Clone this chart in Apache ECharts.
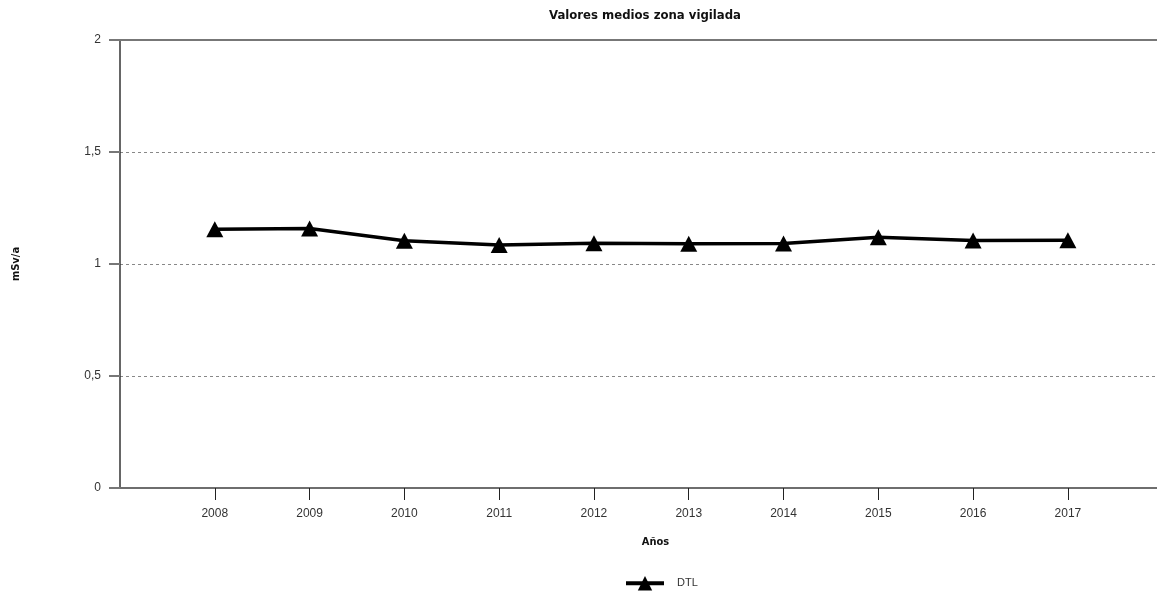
<!DOCTYPE html>
<html>
<head>
<meta charset="utf-8">
<script src="https://cdn.jsdelivr.net/npm/echarts@6/dist/echarts.min.js"></script>
<style>html,body{margin:0;padding:0;background:#fff}#c{width:1157px;height:593px}</style>
</head>
<body>
<div id="c"></div>
<script>
const years = [2008, 2009, 2010, 2011, 2012, 2013, 2014, 2015, 2016, 2017];
const dtl = [1.155, 1.158, 1.104, 1.085, 1.093, 1.090, 1.091, 1.119, 1.105, 1.106];
const yTicks = [0, 0.5, 1, 1.5, 2];

const chart = echarts.init(document.getElementById('c'));
const condensed = "'Liberation Sans Narrow', 'DejaVu Sans Condensed', 'Liberation Sans', sans-serif";
chart.setOption({
  animation: false,
  title: {
    text: 'Valores medios zona vigilada',
    left: 640, top: 4, textAlign: 'center',
    textStyle: { fontFamily: condensed, fontWeight: 'bold', fontSize: 13, color: '#111' }
  },
  legend: {
    top: 576, left: 624, padding: 0,
    itemWidth: 38, itemHeight: 18, itemGap: 10,
    lineStyle: { width: 4, color: '#000' },
    textStyle: { fontFamily: 'Liberation Sans', fontSize: 11, color: '#333', padding: [0, 0, 0, 8] },
    data: ['DTL']
  },
  grid: { left: 120, right: 0, top: 40, bottom: 105, containLabel: false, outerBoundsMode: 'none' },
  xAxis: {
    type: 'value', min: 2007, max: 2017.94, interval: 1,
    name: 'Años', nameLocation: 'middle', nameGap: 49,
    nameTextStyle: { fontFamily: condensed, fontWeight: 'bold', fontSize: 11, color: '#111', padding: [0,0,0,34] },
    axisLine: { show: true, onZero: false, lineStyle: { color: '#6e6e6e', width: 2 } },
    axisTick: { show: true, length: 12, lineStyle: { color: '#222', width: 1 } },
    axisLabel: {
      margin: 20, fontFamily: 'Liberation Sans', fontSize: 12, color: '#333',
      showMaxLabel: false, showMinLabel: false,
      formatter: v => (Number.isInteger(v) && years.includes(v)) ? String(v) : ''
    },
    splitLine: { show: false }
  },
  yAxis: {
    type: 'value', min: 0, max: 2, interval: 0.5,
    name: 'mSv/a', nameLocation: 'middle', nameGap: 98,
    nameTextStyle: { fontFamily: condensed, fontWeight: 'bold', fontSize: 11, color: '#111' },
    axisLine: { show: true, lineStyle: { color: '#333', width: 1.5 } },
    axisTick: { show: true, length: 11, lineStyle: { color: '#777', width: 2 } },
    axisLabel: {
      margin: 19, fontFamily: 'Liberation Sans', fontSize: 12, color: '#333',
      formatter: v => yTicks.includes(v) ? String(v).replace('.', ',') : ''
    },
    splitLine: { show: true, lineStyle: { color: '#888', type: [3, 3], width: 1 } }
  },
  series: [{
    name: 'DTL', type: 'line',
    data: years.map((y, i) => [y, dtl[i]]),
    symbol: 'triangle', symbolSize: [17, 16],
    lineStyle: { color: '#000', width: 3.5 },
    itemStyle: { color: '#000' },
    markLine: {
      silent: true, symbol: 'none', label: { show: false },
      lineStyle: { color: '#777', type: 'solid', width: 2 },
      data: [{ yAxis: 2 }]
    }
  }]
});
</script>
</body>
</html>
